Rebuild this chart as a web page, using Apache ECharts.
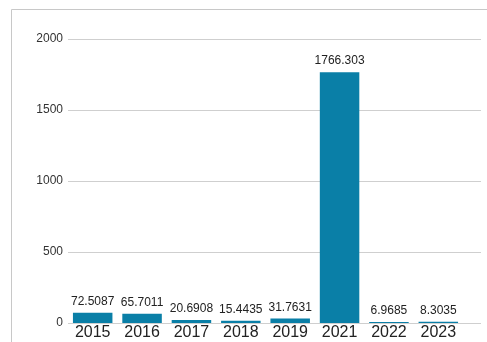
<!DOCTYPE html>
<html><head><meta charset="utf-8">
<script src="https://cdn.jsdelivr.net/npm/echarts@6/dist/echarts.min.js"></script>
<style>html,body{margin:0;padding:0;background:#fff}#c{width:487px;height:342px}</style>
</head><body><div id="c"></div>
<script>
const categories = ['2015','2016','2017','2018','2019','2021','2022','2023'];
const values = [72.5087, 65.7011, 20.6908, 15.4435, 31.7631, 1766.303, 6.9685, 8.3035];
const yTicks = [0, 500, 1000, 1500, 2000];

const chart = echarts.init(document.getElementById('c'));
const font = '"Liberation Sans", Arial, sans-serif';
chart.setOption({
  animation: false,
  backgroundColor: '#fff',
  graphic: [{
    type: 'rect', shape: {x: 11.5, y: 9.5, width: 600, height: 400},
    style: {fill: 'none', stroke: '#c8c8c8', lineWidth: 1}, silent: true, z: -1
  }],
  grid: [
    {left: 68, right: 24, top: 39, bottom: 19},
    {left: 68, right: 6, top: 39, bottom: 19}
  ],
  xAxis: [
    {type: 'category', gridIndex: 0, data: categories,
     axisLine: {show: false}, axisTick: {show: false},
     axisLabel: {fontFamily: font, fontSize: 16, color: '#222', margin: 2}},
    {type: 'category', gridIndex: 1, data: [''], show: false}
  ],
  yAxis: [
    {type: 'value', gridIndex: 0, min: 0, max: 2000, interval: 500, show: false,
     splitLine: {show: false}},
    {type: 'value', gridIndex: 1, min: yTicks[0], max: yTicks[yTicks.length-1], interval: 500,
     axisLine: {show: false}, axisTick: {show: false},
     axisLabel: {fontFamily: font, fontSize: 12, color: '#333', margin: 5,
       formatter: v => String(v)},
     splitLine: {lineStyle: {color: '#cfcfcf', width: 1}}}
  ],
  series: [{
    type: 'bar', xAxisIndex: 0, yAxisIndex: 0, data: values,
    barCategoryGap: '20%',
    itemStyle: {color: '#0a7fa7'},
    label: {show: true, position: 'top', distance: 5,
      fontFamily: font, fontSize: 12, color: '#222',
      formatter: p => String(p.value)}
  }]
});
</script></body></html>
